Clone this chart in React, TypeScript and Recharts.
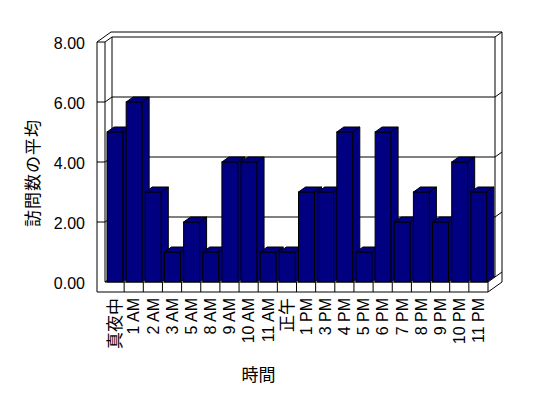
import React from "react"
import { BarChart, Bar, XAxis, YAxis, CartesianGrid, ReferenceArea } from "recharts"

const hours = [
  "真夜中", "1 AM", "2 AM", "3 AM", "5 AM", "8 AM", "9 AM", "10 AM", "11 AM", "正午",
  "1 PM", "3 PM", "4 PM", "5 PM", "6 PM", "7 PM", "8 PM", "9 PM", "10 PM", "11 PM",
]
const visits = [5, 6, 3, 1, 2, 1, 4, 4, 1, 1, 3, 3, 5, 1, 5, 2, 3, 2, 4, 3]
const yTicks = [0, 2, 4, 6, 8]

const data = hours.map((name, i) => ({ name, value: visits[i] }))

// depth of one step back into the 3D box
const DX = 7
const DY = -5
const WALL = 8
const FLOOR = 10
const LATIN = "'Liberation Sans', Arial, sans-serif"
const CJK = "'Noto Sans CJK JP', sans-serif"

function Box3D(props: any) {
  const { x, y, width, height, fill } = props
  if (!height) return null
  return (
    <g stroke="#000" strokeWidth={1} fill={fill}>
      <rect x={x} y={y} width={width} height={height} />
      <polygon points={`${x},${y} ${x + width},${y} ${x + width + DX},${y + DY} ${x + DX},${y + DY}`} />
      <polygon
        points={`${x + width},${y} ${x + width + DX},${y + DY} ${x + width + DX},${y + height + DY} ${x + width},${y + height}`}
      />
    </g>
  )
}

function Frame(props: any) {
  const { x, y, width, height } = props
  const x0 = x
  const x1 = x + width
  const top = y
  const bot = y + height
  const n = hours.length
  const step = width / n
  const lines: React.ReactNode[] = []
  for (let i = 1; i < n; i++) {
    const cx = x0 + i * step
    lines.push(<line key={i} x1={cx} y1={bot} x2={cx} y2={bot + FLOOR} />)
  }
  return (
    <g stroke="#000" strokeWidth={1} fill="none">
      {/* left wall */}
      <line x1={x0 - WALL} y1={top} x2={x0 - WALL} y2={bot + FLOOR} />
      <line x1={x0} y1={top} x2={x0} y2={bot} />
      <line x1={x0 - WALL} y1={top} x2={x0 - WALL + 2 * DX} y2={top + 2 * DY} />
      <line x1={x0 - WALL + 2 * DX} y1={top + 2 * DY} x2={x1 + 2 * DX} y2={top + 2 * DY} />
      {/* back wall */}
      <line x1={x0 + DX} y1={top + DY} x2={x0 + DX} y2={bot + DY} />
      <line x1={x1 + DX} y1={top + DY} x2={x1 + DX} y2={bot + DY} />
      <line x1={x1 + 2 * DX} y1={top + 2 * DY} x2={x1 + 2 * DX} y2={bot + FLOOR + 2 * DY} />
      <line x1={x0 + DX} y1={bot + DY} x2={x1 + DX} y2={bot + DY} />
      <line x1={x0} y1={bot} x2={x0 + DX} y2={bot + DY} />
      {/* floor */}
      <line x1={x0} y1={bot} x2={x1} y2={bot} />
      <line x1={x0 - WALL} y1={bot + FLOOR} x2={x1} y2={bot + FLOOR} />
      <line x1={x1} y1={bot} x2={x1} y2={bot + FLOOR} />
      <line x1={x1} y1={bot} x2={x1 + 2 * DX} y2={bot + 2 * DY} />
      <line x1={x1} y1={bot + FLOOR} x2={x1 + 2 * DX} y2={bot + FLOOR + 2 * DY} />
      {lines}
    </g>
  )
}

function GridLine(props: any) {
  const { x1, x2, y1, index } = props
  if (index === 0 && y1 > 200) return <g key={props.key} />
  const pts = `${x1 - WALL},${y1} ${x1},${y1} ${x1 + DX},${y1 + DY} ${x2 + DX},${y1 + DY} ${x2 + 2 * DX},${y1 + 2 * DY}`
  return <polyline key={props.key} points={pts} fill="none" stroke="#000" strokeWidth={1} />
}

function HourTick(props: any) {
  const { x, y, payload } = props
  const label: string = payload.value
  const cjk = !/[A-Z0-9]/.test(label)
  return (
    <g transform={`translate(${x},${y + 8})`}>
      <text
        transform="rotate(-90)"
        textAnchor="end"
        dy="0.36em"
        fontSize={cjk ? 17 : 16}
        fontFamily={cjk ? CJK : LATIN}
        fill="#000"
      >
        {label}
      </text>
    </g>
  )
}

export default function App() {
  return (
    <div style={{ position: "absolute", left: 0, top: 0, width: 548, height: 398, background: "#fff" }}>
      <BarChart width={548} height={398} data={data} margin={{ top: 42, right: 60, bottom: 0, left: 0 }}>
        <CartesianGrid vertical={false} horizontal={(p: any) => <GridLine {...p} />} />
        <ReferenceArea y1={0} y2={8} shape={(p: any) => <Frame {...p} />} />
        <XAxis
          dataKey="name"
          interval={0}
          axisLine={false}
          tickLine={false}
          height={116}
          tick={<HourTick />}
          label={{
            content: ({ viewBox }: any) => (
              <text
                x={viewBox.x + viewBox.width / 2 - 38}
                y={viewBox.y + 99}
                textAnchor="middle"
                fontSize={17}
                fontFamily={CJK}
                fill="#000"
              >
                時間
              </text>
            ),
          }}
        />
        <YAxis
          domain={[0, 8]}
          ticks={yTicks}
          width={105}
          axisLine={false}
          tickLine={false}
          tickSize={0}
          tickMargin={20}
          tickFormatter={(v: number) => v.toFixed(2)}
          tick={{ fontSize: 16, fontFamily: LATIN, fill: "#000", dy: 1 }}
          label={{
            content: ({ viewBox }: any) => {
              const cx = 31
              const cy = viewBox.y + viewBox.height / 2 + 11
              return (
                <text
                  x={cx}
                  y={cy}
                  transform={`rotate(-90, ${cx}, ${cy})`}
                  textAnchor="middle"
                  dominantBaseline="central"
                  fontSize={17}
                  letterSpacing={1}
                  fontFamily={CJK}
                  fill="#000"
                >
                  訪問数の平均
                </text>
              )
            },
          }}
        />
        <Bar dataKey="value" barSize={16} fill="#000080" shape={<Box3D />} isAnimationActive={false} />
      </BarChart>
    </div>
  )
}
